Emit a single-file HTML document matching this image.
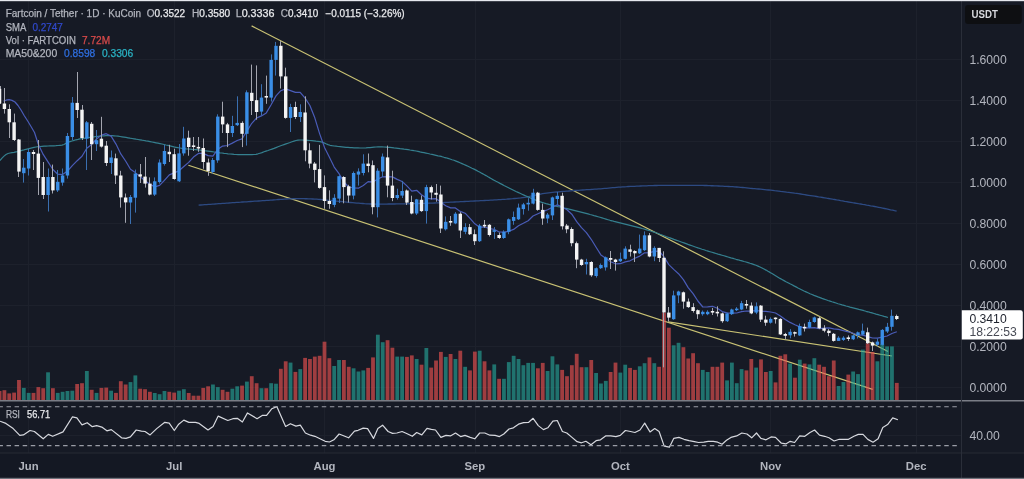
<!DOCTYPE html>
<html><head><meta charset="utf-8">
<style>
html,body{margin:0;padding:0;background:#161a25;}
body{width:1024px;height:479px;overflow:hidden;position:relative;font-family:"Liberation Sans",Arial,sans-serif;}
svg{position:absolute;left:0;top:0;}
.t{font-family:"Liberation Sans",Arial,sans-serif;}
</style></head><body>
<svg width="1024" height="479" viewBox="0 0 1024 479">
<rect x="0" y="0" width="1024" height="479" fill="#161a25"/>
<line x1="0" y1="387.5" x2="961" y2="387.5" stroke="#1d212c" stroke-width="1"/>
<line x1="0" y1="346.5" x2="961" y2="346.5" stroke="#1d212c" stroke-width="1"/>
<line x1="0" y1="305.5" x2="961" y2="305.5" stroke="#1d212c" stroke-width="1"/>
<line x1="0" y1="264.5" x2="961" y2="264.5" stroke="#1d212c" stroke-width="1"/>
<line x1="0" y1="223.5" x2="961" y2="223.5" stroke="#1d212c" stroke-width="1"/>
<line x1="0" y1="182.5" x2="961" y2="182.5" stroke="#1d212c" stroke-width="1"/>
<line x1="0" y1="141.5" x2="961" y2="141.5" stroke="#1d212c" stroke-width="1"/>
<line x1="0" y1="100.5" x2="961" y2="100.5" stroke="#1d212c" stroke-width="1"/>
<line x1="0" y1="59.5" x2="961" y2="59.5" stroke="#1d212c" stroke-width="1"/>
<line x1="28.5" y1="0" x2="28.5" y2="453" stroke="#1d212c" stroke-width="1"/>
<line x1="174.5" y1="0" x2="174.5" y2="453" stroke="#1d212c" stroke-width="1"/>
<line x1="324.5" y1="0" x2="324.5" y2="453" stroke="#1d212c" stroke-width="1"/>
<line x1="475.5" y1="0" x2="475.5" y2="453" stroke="#1d212c" stroke-width="1"/>
<line x1="620.5" y1="0" x2="620.5" y2="453" stroke="#1d212c" stroke-width="1"/>
<line x1="770.5" y1="0" x2="770.5" y2="453" stroke="#1d212c" stroke-width="1"/>
<line x1="916.5" y1="0" x2="916.5" y2="453" stroke="#1d212c" stroke-width="1"/>
<line x1="0" y1="435.5" x2="961" y2="435.5" stroke="#1d212c" stroke-width="1"/>
<line x1="251.6" y1="25.9" x2="888" y2="351.5" stroke="#c9c274" stroke-width="1.2"/>
<line x1="188.4" y1="165.2" x2="872.7" y2="389.4" stroke="#c9c274" stroke-width="1.2"/>
<line x1="668.2" y1="321.9" x2="892" y2="356" stroke="#c9c274" stroke-width="1.2"/>
<rect x="-2.35" y="391.0" width="3.8" height="9.0" fill="#ef5350" fill-opacity="0.63"/>
<rect x="2.50" y="390.2" width="3.8" height="9.8" fill="#ef5350" fill-opacity="0.63"/>
<rect x="7.35" y="393.4" width="3.8" height="6.6" fill="#ef5350" fill-opacity="0.63"/>
<rect x="12.20" y="392.6" width="3.8" height="7.4" fill="#ef5350" fill-opacity="0.63"/>
<rect x="17.05" y="380.0" width="3.8" height="20.0" fill="#ef5350" fill-opacity="0.63"/>
<rect x="21.90" y="387.9" width="3.8" height="12.1" fill="#26a69a" fill-opacity="0.63"/>
<rect x="26.75" y="392.9" width="3.8" height="7.1" fill="#26a69a" fill-opacity="0.63"/>
<rect x="31.60" y="392.9" width="3.8" height="7.1" fill="#ef5350" fill-opacity="0.63"/>
<rect x="36.45" y="387.1" width="3.8" height="12.9" fill="#ef5350" fill-opacity="0.63"/>
<rect x="41.30" y="388.2" width="3.8" height="11.8" fill="#ef5350" fill-opacity="0.63"/>
<rect x="46.15" y="372.3" width="3.8" height="27.7" fill="#26a69a" fill-opacity="0.63"/>
<rect x="51.00" y="388.2" width="3.8" height="11.8" fill="#ef5350" fill-opacity="0.63"/>
<rect x="55.85" y="392.9" width="3.8" height="7.1" fill="#26a69a" fill-opacity="0.63"/>
<rect x="60.70" y="391.8" width="3.8" height="8.2" fill="#26a69a" fill-opacity="0.63"/>
<rect x="65.55" y="391.0" width="3.8" height="9.0" fill="#26a69a" fill-opacity="0.63"/>
<rect x="70.40" y="390.7" width="3.8" height="9.3" fill="#26a69a" fill-opacity="0.63"/>
<rect x="75.25" y="384.0" width="3.8" height="16.0" fill="#ef5350" fill-opacity="0.63"/>
<rect x="80.10" y="383.2" width="3.8" height="16.8" fill="#ef5350" fill-opacity="0.63"/>
<rect x="84.95" y="371.0" width="3.8" height="29.0" fill="#26a69a" fill-opacity="0.63"/>
<rect x="89.80" y="389.8" width="3.8" height="10.2" fill="#ef5350" fill-opacity="0.63"/>
<rect x="94.65" y="392.9" width="3.8" height="7.1" fill="#26a69a" fill-opacity="0.63"/>
<rect x="99.50" y="387.9" width="3.8" height="12.1" fill="#ef5350" fill-opacity="0.63"/>
<rect x="104.35" y="387.6" width="3.8" height="12.4" fill="#ef5350" fill-opacity="0.63"/>
<rect x="109.20" y="390.7" width="3.8" height="9.3" fill="#26a69a" fill-opacity="0.63"/>
<rect x="114.05" y="392.9" width="3.8" height="7.1" fill="#ef5350" fill-opacity="0.63"/>
<rect x="118.90" y="381.2" width="3.8" height="18.8" fill="#ef5350" fill-opacity="0.63"/>
<rect x="123.75" y="384.5" width="3.8" height="15.5" fill="#ef5350" fill-opacity="0.63"/>
<rect x="128.60" y="382.1" width="3.8" height="17.9" fill="#26a69a" fill-opacity="0.63"/>
<rect x="133.45" y="375.4" width="3.8" height="24.6" fill="#26a69a" fill-opacity="0.63"/>
<rect x="138.30" y="388.7" width="3.8" height="11.3" fill="#ef5350" fill-opacity="0.63"/>
<rect x="143.15" y="389.2" width="3.8" height="10.8" fill="#ef5350" fill-opacity="0.63"/>
<rect x="148.00" y="391.8" width="3.8" height="8.2" fill="#ef5350" fill-opacity="0.63"/>
<rect x="152.85" y="393.0" width="3.8" height="7.0" fill="#26a69a" fill-opacity="0.63"/>
<rect x="157.70" y="394.2" width="3.8" height="5.8" fill="#26a69a" fill-opacity="0.63"/>
<rect x="162.55" y="391.0" width="3.8" height="9.0" fill="#26a69a" fill-opacity="0.63"/>
<rect x="167.40" y="391.8" width="3.8" height="8.2" fill="#ef5350" fill-opacity="0.63"/>
<rect x="172.25" y="392.6" width="3.8" height="7.4" fill="#ef5350" fill-opacity="0.63"/>
<rect x="177.10" y="390.7" width="3.8" height="9.3" fill="#26a69a" fill-opacity="0.63"/>
<rect x="181.95" y="389.2" width="3.8" height="10.8" fill="#26a69a" fill-opacity="0.63"/>
<rect x="186.80" y="393.0" width="3.8" height="7.0" fill="#ef5350" fill-opacity="0.63"/>
<rect x="191.65" y="395.7" width="3.8" height="4.3" fill="#ef5350" fill-opacity="0.63"/>
<rect x="196.50" y="395.7" width="3.8" height="4.3" fill="#ef5350" fill-opacity="0.63"/>
<rect x="201.35" y="387.9" width="3.8" height="12.1" fill="#ef5350" fill-opacity="0.63"/>
<rect x="206.20" y="386.3" width="3.8" height="13.7" fill="#ef5350" fill-opacity="0.63"/>
<rect x="211.05" y="384.5" width="3.8" height="15.5" fill="#26a69a" fill-opacity="0.63"/>
<rect x="215.90" y="387.1" width="3.8" height="12.9" fill="#26a69a" fill-opacity="0.63"/>
<rect x="220.75" y="389.8" width="3.8" height="10.2" fill="#ef5350" fill-opacity="0.63"/>
<rect x="225.60" y="391.8" width="3.8" height="8.2" fill="#ef5350" fill-opacity="0.63"/>
<rect x="230.45" y="388.7" width="3.8" height="11.3" fill="#26a69a" fill-opacity="0.63"/>
<rect x="235.30" y="386.3" width="3.8" height="13.7" fill="#26a69a" fill-opacity="0.63"/>
<rect x="240.15" y="385.6" width="3.8" height="14.4" fill="#ef5350" fill-opacity="0.63"/>
<rect x="245.00" y="381.6" width="3.8" height="18.4" fill="#26a69a" fill-opacity="0.63"/>
<rect x="249.85" y="376.2" width="3.8" height="23.8" fill="#ef5350" fill-opacity="0.63"/>
<rect x="254.70" y="383.2" width="3.8" height="16.8" fill="#ef5350" fill-opacity="0.63"/>
<rect x="259.55" y="388.2" width="3.8" height="11.8" fill="#26a69a" fill-opacity="0.63"/>
<rect x="264.40" y="388.2" width="3.8" height="11.8" fill="#ef5350" fill-opacity="0.63"/>
<rect x="269.25" y="383.2" width="3.8" height="16.8" fill="#26a69a" fill-opacity="0.63"/>
<rect x="274.10" y="383.7" width="3.8" height="16.3" fill="#26a69a" fill-opacity="0.63"/>
<rect x="278.95" y="368.8" width="3.8" height="31.2" fill="#ef5350" fill-opacity="0.63"/>
<rect x="283.80" y="361.3" width="3.8" height="38.7" fill="#ef5350" fill-opacity="0.63"/>
<rect x="288.65" y="362.6" width="3.8" height="37.4" fill="#26a69a" fill-opacity="0.63"/>
<rect x="293.50" y="371.9" width="3.8" height="28.1" fill="#ef5350" fill-opacity="0.63"/>
<rect x="298.35" y="369.1" width="3.8" height="30.9" fill="#26a69a" fill-opacity="0.63"/>
<rect x="303.20" y="357.9" width="3.8" height="42.1" fill="#ef5350" fill-opacity="0.63"/>
<rect x="308.05" y="359.0" width="3.8" height="41.0" fill="#ef5350" fill-opacity="0.63"/>
<rect x="312.90" y="356.6" width="3.8" height="43.4" fill="#ef5350" fill-opacity="0.63"/>
<rect x="317.75" y="355.8" width="3.8" height="44.2" fill="#ef5350" fill-opacity="0.63"/>
<rect x="322.60" y="341.7" width="3.8" height="58.3" fill="#ef5350" fill-opacity="0.63"/>
<rect x="327.45" y="358.2" width="3.8" height="41.8" fill="#ef5350" fill-opacity="0.63"/>
<rect x="332.30" y="366.0" width="3.8" height="34.0" fill="#26a69a" fill-opacity="0.63"/>
<rect x="337.15" y="360.0" width="3.8" height="40.0" fill="#26a69a" fill-opacity="0.63"/>
<rect x="342.00" y="360.0" width="3.8" height="40.0" fill="#ef5350" fill-opacity="0.63"/>
<rect x="346.85" y="366.8" width="3.8" height="33.2" fill="#ef5350" fill-opacity="0.63"/>
<rect x="351.70" y="368.3" width="3.8" height="31.7" fill="#26a69a" fill-opacity="0.63"/>
<rect x="356.55" y="371.5" width="3.8" height="28.5" fill="#26a69a" fill-opacity="0.63"/>
<rect x="361.40" y="370.4" width="3.8" height="29.6" fill="#26a69a" fill-opacity="0.63"/>
<rect x="366.25" y="367.9" width="3.8" height="32.1" fill="#ef5350" fill-opacity="0.63"/>
<rect x="371.10" y="357.4" width="3.8" height="42.6" fill="#ef5350" fill-opacity="0.63"/>
<rect x="375.95" y="334.7" width="3.8" height="65.3" fill="#26a69a" fill-opacity="0.63"/>
<rect x="380.80" y="342.2" width="3.8" height="57.8" fill="#26a69a" fill-opacity="0.63"/>
<rect x="385.65" y="340.2" width="3.8" height="59.8" fill="#ef5350" fill-opacity="0.63"/>
<rect x="390.50" y="347.7" width="3.8" height="52.3" fill="#ef5350" fill-opacity="0.63"/>
<rect x="395.35" y="356.6" width="3.8" height="43.4" fill="#26a69a" fill-opacity="0.63"/>
<rect x="400.20" y="356.6" width="3.8" height="43.4" fill="#26a69a" fill-opacity="0.63"/>
<rect x="405.05" y="356.9" width="3.8" height="43.1" fill="#ef5350" fill-opacity="0.63"/>
<rect x="409.90" y="355.4" width="3.8" height="44.6" fill="#ef5350" fill-opacity="0.63"/>
<rect x="414.75" y="359.0" width="3.8" height="41.0" fill="#26a69a" fill-opacity="0.63"/>
<rect x="419.60" y="364.7" width="3.8" height="35.3" fill="#ef5350" fill-opacity="0.63"/>
<rect x="424.45" y="348.0" width="3.8" height="52.0" fill="#26a69a" fill-opacity="0.63"/>
<rect x="429.30" y="367.6" width="3.8" height="32.4" fill="#ef5350" fill-opacity="0.63"/>
<rect x="434.15" y="360.5" width="3.8" height="39.5" fill="#ef5350" fill-opacity="0.63"/>
<rect x="439.00" y="351.9" width="3.8" height="48.1" fill="#ef5350" fill-opacity="0.63"/>
<rect x="443.85" y="356.9" width="3.8" height="43.1" fill="#26a69a" fill-opacity="0.63"/>
<rect x="448.70" y="354.0" width="3.8" height="46.0" fill="#ef5350" fill-opacity="0.63"/>
<rect x="453.55" y="359.0" width="3.8" height="41.0" fill="#26a69a" fill-opacity="0.63"/>
<rect x="458.40" y="350.7" width="3.8" height="49.3" fill="#ef5350" fill-opacity="0.63"/>
<rect x="463.25" y="366.8" width="3.8" height="33.2" fill="#26a69a" fill-opacity="0.63"/>
<rect x="468.10" y="370.4" width="3.8" height="29.6" fill="#ef5350" fill-opacity="0.63"/>
<rect x="472.95" y="351.6" width="3.8" height="48.4" fill="#ef5350" fill-opacity="0.63"/>
<rect x="477.80" y="350.7" width="3.8" height="49.3" fill="#26a69a" fill-opacity="0.63"/>
<rect x="482.65" y="361.3" width="3.8" height="38.7" fill="#ef5350" fill-opacity="0.63"/>
<rect x="487.50" y="370.4" width="3.8" height="29.6" fill="#ef5350" fill-opacity="0.63"/>
<rect x="492.35" y="364.4" width="3.8" height="35.6" fill="#26a69a" fill-opacity="0.63"/>
<rect x="497.20" y="378.8" width="3.8" height="21.2" fill="#ef5350" fill-opacity="0.63"/>
<rect x="502.05" y="378.8" width="3.8" height="21.2" fill="#26a69a" fill-opacity="0.63"/>
<rect x="506.90" y="362.1" width="3.8" height="37.9" fill="#26a69a" fill-opacity="0.63"/>
<rect x="511.75" y="355.8" width="3.8" height="44.2" fill="#26a69a" fill-opacity="0.63"/>
<rect x="516.60" y="359.0" width="3.8" height="41.0" fill="#26a69a" fill-opacity="0.63"/>
<rect x="521.45" y="365.2" width="3.8" height="34.8" fill="#26a69a" fill-opacity="0.63"/>
<rect x="526.30" y="362.9" width="3.8" height="37.1" fill="#26a69a" fill-opacity="0.63"/>
<rect x="531.15" y="362.9" width="3.8" height="37.1" fill="#26a69a" fill-opacity="0.63"/>
<rect x="536.00" y="368.3" width="3.8" height="31.7" fill="#ef5350" fill-opacity="0.63"/>
<rect x="540.85" y="362.9" width="3.8" height="37.1" fill="#ef5350" fill-opacity="0.63"/>
<rect x="545.70" y="371.0" width="3.8" height="29.0" fill="#26a69a" fill-opacity="0.63"/>
<rect x="550.55" y="356.3" width="3.8" height="43.7" fill="#26a69a" fill-opacity="0.63"/>
<rect x="555.40" y="364.4" width="3.8" height="35.6" fill="#26a69a" fill-opacity="0.63"/>
<rect x="560.25" y="369.9" width="3.8" height="30.1" fill="#ef5350" fill-opacity="0.63"/>
<rect x="565.10" y="376.2" width="3.8" height="23.8" fill="#ef5350" fill-opacity="0.63"/>
<rect x="569.95" y="365.2" width="3.8" height="34.8" fill="#ef5350" fill-opacity="0.63"/>
<rect x="574.80" y="353.8" width="3.8" height="46.2" fill="#ef5350" fill-opacity="0.63"/>
<rect x="579.65" y="367.2" width="3.8" height="32.8" fill="#ef5350" fill-opacity="0.63"/>
<rect x="584.50" y="367.2" width="3.8" height="32.8" fill="#26a69a" fill-opacity="0.63"/>
<rect x="589.35" y="360.0" width="3.8" height="40.0" fill="#ef5350" fill-opacity="0.63"/>
<rect x="594.20" y="373.0" width="3.8" height="27.0" fill="#26a69a" fill-opacity="0.63"/>
<rect x="599.05" y="383.5" width="3.8" height="16.5" fill="#26a69a" fill-opacity="0.63"/>
<rect x="603.90" y="380.9" width="3.8" height="19.1" fill="#26a69a" fill-opacity="0.63"/>
<rect x="608.75" y="372.0" width="3.8" height="28.0" fill="#ef5350" fill-opacity="0.63"/>
<rect x="613.60" y="362.6" width="3.8" height="37.4" fill="#ef5350" fill-opacity="0.63"/>
<rect x="618.45" y="372.6" width="3.8" height="27.4" fill="#26a69a" fill-opacity="0.63"/>
<rect x="623.30" y="364.7" width="3.8" height="35.3" fill="#26a69a" fill-opacity="0.63"/>
<rect x="628.15" y="367.9" width="3.8" height="32.1" fill="#ef5350" fill-opacity="0.63"/>
<rect x="633.00" y="369.9" width="3.8" height="30.1" fill="#ef5350" fill-opacity="0.63"/>
<rect x="637.85" y="366.3" width="3.8" height="33.7" fill="#26a69a" fill-opacity="0.63"/>
<rect x="642.70" y="363.2" width="3.8" height="36.8" fill="#26a69a" fill-opacity="0.63"/>
<rect x="647.55" y="357.4" width="3.8" height="42.6" fill="#ef5350" fill-opacity="0.63"/>
<rect x="652.40" y="363.2" width="3.8" height="36.8" fill="#26a69a" fill-opacity="0.63"/>
<rect x="657.25" y="366.8" width="3.8" height="33.2" fill="#ef5350" fill-opacity="0.63"/>
<rect x="662.10" y="312.5" width="3.8" height="87.5" fill="#ef5350" fill-opacity="0.63"/>
<rect x="666.95" y="327.7" width="3.8" height="72.3" fill="#ef5350" fill-opacity="0.63"/>
<rect x="671.80" y="345.3" width="3.8" height="54.7" fill="#26a69a" fill-opacity="0.63"/>
<rect x="676.65" y="342.8" width="3.8" height="57.2" fill="#26a69a" fill-opacity="0.63"/>
<rect x="681.50" y="347.2" width="3.8" height="52.8" fill="#ef5350" fill-opacity="0.63"/>
<rect x="686.35" y="358.5" width="3.8" height="41.5" fill="#ef5350" fill-opacity="0.63"/>
<rect x="691.20" y="353.2" width="3.8" height="46.8" fill="#ef5350" fill-opacity="0.63"/>
<rect x="696.05" y="363.2" width="3.8" height="36.8" fill="#ef5350" fill-opacity="0.63"/>
<rect x="700.90" y="369.9" width="3.8" height="30.1" fill="#26a69a" fill-opacity="0.63"/>
<rect x="705.75" y="372.0" width="3.8" height="28.0" fill="#26a69a" fill-opacity="0.63"/>
<rect x="710.60" y="366.8" width="3.8" height="33.2" fill="#ef5350" fill-opacity="0.63"/>
<rect x="715.45" y="366.8" width="3.8" height="33.2" fill="#ef5350" fill-opacity="0.63"/>
<rect x="720.30" y="362.6" width="3.8" height="37.4" fill="#ef5350" fill-opacity="0.63"/>
<rect x="725.15" y="380.4" width="3.8" height="19.6" fill="#26a69a" fill-opacity="0.63"/>
<rect x="730.00" y="362.6" width="3.8" height="37.4" fill="#26a69a" fill-opacity="0.63"/>
<rect x="734.85" y="383.2" width="3.8" height="16.8" fill="#26a69a" fill-opacity="0.63"/>
<rect x="739.70" y="369.1" width="3.8" height="30.9" fill="#26a69a" fill-opacity="0.63"/>
<rect x="744.55" y="370.4" width="3.8" height="29.6" fill="#ef5350" fill-opacity="0.63"/>
<rect x="749.40" y="359.0" width="3.8" height="41.0" fill="#ef5350" fill-opacity="0.63"/>
<rect x="754.25" y="367.6" width="3.8" height="32.4" fill="#26a69a" fill-opacity="0.63"/>
<rect x="759.10" y="359.4" width="3.8" height="40.6" fill="#ef5350" fill-opacity="0.63"/>
<rect x="763.95" y="372.0" width="3.8" height="28.0" fill="#ef5350" fill-opacity="0.63"/>
<rect x="768.80" y="371.0" width="3.8" height="29.0" fill="#26a69a" fill-opacity="0.63"/>
<rect x="773.65" y="382.4" width="3.8" height="17.6" fill="#ef5350" fill-opacity="0.63"/>
<rect x="778.50" y="355.8" width="3.8" height="44.2" fill="#ef5350" fill-opacity="0.63"/>
<rect x="783.35" y="354.3" width="3.8" height="45.7" fill="#ef5350" fill-opacity="0.63"/>
<rect x="788.20" y="363.6" width="3.8" height="36.4" fill="#26a69a" fill-opacity="0.63"/>
<rect x="793.05" y="377.7" width="3.8" height="22.3" fill="#ef5350" fill-opacity="0.63"/>
<rect x="797.90" y="359.7" width="3.8" height="40.3" fill="#26a69a" fill-opacity="0.63"/>
<rect x="802.75" y="363.6" width="3.8" height="36.4" fill="#ef5350" fill-opacity="0.63"/>
<rect x="807.60" y="364.4" width="3.8" height="35.6" fill="#26a69a" fill-opacity="0.63"/>
<rect x="812.45" y="358.2" width="3.8" height="41.8" fill="#26a69a" fill-opacity="0.63"/>
<rect x="817.30" y="364.7" width="3.8" height="35.3" fill="#ef5350" fill-opacity="0.63"/>
<rect x="822.15" y="366.8" width="3.8" height="33.2" fill="#ef5350" fill-opacity="0.63"/>
<rect x="827.00" y="376.2" width="3.8" height="23.8" fill="#ef5350" fill-opacity="0.63"/>
<rect x="831.85" y="360.5" width="3.8" height="39.5" fill="#ef5350" fill-opacity="0.63"/>
<rect x="836.70" y="386.0" width="3.8" height="14.0" fill="#26a69a" fill-opacity="0.63"/>
<rect x="841.55" y="382.0" width="3.8" height="18.0" fill="#26a69a" fill-opacity="0.63"/>
<rect x="846.40" y="374.6" width="3.8" height="25.4" fill="#ef5350" fill-opacity="0.63"/>
<rect x="851.25" y="371.5" width="3.8" height="28.5" fill="#26a69a" fill-opacity="0.63"/>
<rect x="856.10" y="374.1" width="3.8" height="25.9" fill="#26a69a" fill-opacity="0.63"/>
<rect x="860.95" y="349.6" width="3.8" height="50.4" fill="#26a69a" fill-opacity="0.63"/>
<rect x="865.80" y="343.3" width="3.8" height="56.7" fill="#ef5350" fill-opacity="0.63"/>
<rect x="870.65" y="351.9" width="3.8" height="48.1" fill="#ef5350" fill-opacity="0.63"/>
<rect x="875.50" y="361.3" width="3.8" height="38.7" fill="#26a69a" fill-opacity="0.63"/>
<rect x="880.35" y="344.1" width="3.8" height="55.9" fill="#26a69a" fill-opacity="0.63"/>
<rect x="885.20" y="346.4" width="3.8" height="53.6" fill="#26a69a" fill-opacity="0.63"/>
<rect x="890.05" y="346.4" width="3.8" height="53.6" fill="#26a69a" fill-opacity="0.63"/>
<rect x="894.90" y="382.9" width="3.8" height="17.1" fill="#ef5350" fill-opacity="0.63"/>
<polyline points="198.6,205.2 200.6,205.0 202.6,204.9 204.6,204.7 206.6,204.6 208.6,204.4 210.6,204.3 212.6,204.1 214.6,204.0 216.6,203.8 218.6,203.7 220.6,203.6 222.6,203.4 224.6,203.3 226.6,203.1 228.6,203.0 230.6,202.8 232.6,202.7 234.6,202.6 236.6,202.4 238.6,202.3 240.6,202.2 242.6,202.0 244.6,201.9 246.6,201.8 248.6,201.6 250.6,201.5 252.6,201.4 254.6,201.2 256.6,201.1 258.6,201.0 260.6,200.9 262.6,200.7 264.6,200.6 266.6,200.4 268.6,200.3 270.6,200.1 272.6,200.0 274.6,199.8 276.6,199.7 278.6,199.5 280.6,199.4 282.6,199.3 284.6,199.1 286.6,199.0 288.6,198.9 290.6,198.8 292.6,198.7 294.6,198.7 296.6,198.6 298.6,198.6 300.6,198.6 302.6,198.6 304.6,198.7 306.6,198.7 308.6,198.8 310.6,198.9 312.6,199.0 314.6,199.1 316.6,199.2 318.6,199.4 320.6,199.5 322.6,199.7 324.6,199.9 326.6,200.1 328.6,200.3 330.6,200.5 332.6,200.7 334.6,200.9 336.6,201.1 338.6,201.3 340.6,201.5 342.6,201.7 344.6,201.9 346.6,202.1 348.6,202.3 350.6,202.5 352.6,202.7 354.6,202.9 356.6,203.1 358.6,203.2 360.6,203.4 362.6,203.5 364.6,203.7 366.6,203.8 368.6,203.9 370.6,204.0 372.6,204.0 374.6,204.1 376.6,204.1 378.6,204.1 380.6,204.1 382.6,204.1 384.6,204.1 386.6,204.1 388.6,204.0 390.6,204.0 392.6,204.0 394.6,204.0 396.6,203.9 398.6,203.9 400.6,203.9 402.6,203.8 404.6,203.8 406.6,203.7 408.6,203.7 410.6,203.7 412.6,203.6 414.6,203.6 416.6,203.5 418.6,203.5 420.6,203.4 422.6,203.4 424.6,203.3 426.6,203.3 428.6,203.2 430.6,203.1 432.6,203.1 434.6,203.0 436.6,202.9 438.6,202.8 440.6,202.7 442.6,202.6 444.6,202.5 446.6,202.4 448.6,202.3 450.6,202.2 452.6,202.1 454.6,202.0 456.6,201.9 458.6,201.8 460.6,201.7 462.6,201.6 464.6,201.5 466.6,201.4 468.6,201.3 470.6,201.2 472.6,201.1 474.6,201.0 476.6,200.9 478.6,200.8 480.6,200.7 482.6,200.6 484.6,200.5 486.6,200.4 488.6,200.3 490.6,200.2 492.6,200.1 494.6,199.9 496.6,199.8 498.6,199.7 500.6,199.6 502.6,199.4 504.6,199.3 506.6,199.2 508.6,199.0 510.6,198.8 512.6,198.7 514.6,198.5 516.6,198.3 518.6,198.1 520.6,197.9 522.6,197.6 524.6,197.3 526.6,197.0 528.6,196.6 530.6,196.2 532.6,195.8 534.6,195.3 536.6,194.9 538.6,194.5 540.6,194.1 542.6,193.7 544.6,193.4 546.6,193.1 548.6,192.8 550.6,192.6 552.6,192.4 554.6,192.2 556.6,192.0 558.6,191.8 560.6,191.6 562.6,191.4 564.6,191.3 566.6,191.1 568.6,191.0 570.6,190.8 572.6,190.7 574.6,190.5 576.6,190.4 578.6,190.3 580.6,190.1 582.6,190.0 584.6,189.9 586.6,189.7 588.6,189.6 590.6,189.5 592.6,189.3 594.6,189.2 596.6,189.1 598.6,188.9 600.6,188.8 602.6,188.6 604.6,188.4 606.6,188.3 608.6,188.1 610.6,187.9 612.6,187.7 614.6,187.6 616.6,187.4 618.6,187.2 620.6,187.1 622.6,186.9 624.6,186.8 626.6,186.7 628.6,186.5 630.6,186.4 632.6,186.3 634.6,186.3 636.6,186.2 638.6,186.1 640.6,186.0 642.6,185.9 644.6,185.8 646.6,185.8 648.6,185.7 650.6,185.6 652.6,185.6 654.6,185.5 656.6,185.5 658.6,185.4 660.6,185.4 662.6,185.4 664.6,185.4 666.6,185.4 668.6,185.4 670.6,185.4 672.6,185.3 674.6,185.3 676.6,185.3 678.6,185.3 680.6,185.3 682.6,185.3 684.6,185.3 686.6,185.3 688.6,185.3 690.6,185.3 692.6,185.3 694.6,185.3 696.6,185.3 698.6,185.3 700.6,185.4 702.6,185.4 704.6,185.5 706.6,185.5 708.6,185.6 710.6,185.7 712.6,185.7 714.6,185.8 716.6,185.9 718.6,186.0 720.6,186.1 722.6,186.2 724.6,186.3 726.6,186.4 728.6,186.5 730.6,186.6 732.6,186.7 734.6,186.9 736.6,187.0 738.6,187.2 740.6,187.4 742.6,187.5 744.6,187.7 746.6,187.9 748.6,188.1 750.6,188.3 752.6,188.5 754.6,188.6 756.6,188.8 758.6,189.0 760.6,189.2 762.6,189.4 764.6,189.6 766.6,189.8 768.6,190.0 770.6,190.2 772.6,190.4 774.6,190.7 776.6,190.9 778.6,191.1 780.6,191.4 782.6,191.6 784.6,191.8 786.6,192.1 788.6,192.3 790.6,192.6 792.6,192.9 794.6,193.2 796.6,193.4 798.6,193.7 800.6,194.0 802.6,194.3 804.6,194.6 806.6,195.0 808.6,195.3 810.6,195.6 812.6,195.9 814.6,196.2 816.6,196.5 818.6,196.9 820.6,197.2 822.6,197.5 824.6,197.8 826.6,198.2 828.6,198.5 830.6,198.8 832.6,199.2 834.6,199.5 836.6,199.9 838.6,200.2 840.6,200.6 842.6,200.9 844.6,201.3 846.6,201.6 848.6,202.0 850.6,202.3 852.6,202.7 854.6,203.0 856.6,203.3 858.6,203.7 860.6,204.0 862.6,204.4 864.6,204.7 866.6,205.1 868.6,205.4 870.6,205.8 872.6,206.1 874.6,206.5 876.6,206.9 878.6,207.3 880.6,207.7 882.6,208.1 884.6,208.5 886.6,208.9 888.6,209.3 890.6,209.8 892.6,210.2 894.6,210.7 896.6,211.1" fill="none" stroke="#2d4a82" stroke-width="1.35" stroke-linejoin="round" />
<polyline points="0.0,160.5 2.0,158.2 4.0,156.1 6.0,154.5 8.0,153.5 10.0,153.0 12.0,152.6 14.0,152.3 16.0,151.9 18.0,151.5 20.0,151.0 22.0,150.4 24.0,149.9 26.0,149.3 28.0,148.8 30.0,148.3 32.0,147.8 34.0,147.4 36.0,147.0 38.0,146.7 40.0,146.5 42.0,146.3 44.0,146.2 46.0,146.1 48.0,146.0 50.0,145.9 52.0,145.9 54.0,145.8 56.0,145.7 58.0,145.5 60.0,145.3 62.0,145.1 64.0,144.5 66.0,143.3 68.0,142.3 70.0,141.6 72.0,141.0 74.0,140.4 76.0,139.8 78.0,139.4 80.0,138.9 82.0,138.6 84.0,138.3 86.0,137.9 88.0,137.6 90.0,137.3 92.0,137.0 94.0,136.8 96.0,136.5 98.0,136.3 100.0,136.1 102.0,135.9 104.0,135.8 106.0,135.7 108.0,135.6 110.0,135.6 112.0,135.7 114.0,135.8 116.0,136.0 118.0,136.2 120.0,136.5 122.0,136.8 124.0,137.1 126.0,137.4 128.0,137.8 130.0,138.2 132.0,138.5 134.0,138.8 136.0,139.2 138.0,139.5 140.0,139.8 142.0,140.2 144.0,140.5 146.0,140.9 148.0,141.2 150.0,141.6 152.0,142.0 154.0,142.4 156.0,142.8 158.0,143.2 160.0,143.6 162.0,144.0 164.0,144.5 166.0,145.0 168.0,145.4 170.0,145.9 172.0,146.4 174.0,146.9 176.0,147.3 178.0,147.7 180.0,148.0 182.0,148.3 184.0,148.5 186.0,148.8 188.0,149.0 190.0,149.2 192.0,149.4 194.0,149.5 196.0,149.7 198.0,149.9 200.0,150.1 202.0,150.3 204.0,150.6 206.0,150.8 208.0,151.1 210.0,151.4 212.0,151.7 214.0,152.0 216.0,152.3 218.0,152.5 220.0,152.8 222.0,153.0 224.0,153.3 226.0,153.5 228.0,153.8 230.0,154.0 232.0,154.2 234.0,154.4 236.0,154.5 238.0,154.6 240.0,154.6 242.0,154.6 244.0,154.6 246.0,154.6 248.0,154.6 250.0,154.6 252.0,154.6 254.0,154.5 256.0,154.3 258.0,153.8 260.0,153.2 262.0,152.6 264.0,151.8 266.0,151.1 268.0,150.5 270.0,149.8 272.0,149.1 274.0,148.4 276.0,147.6 278.0,146.8 280.0,146.0 282.0,145.3 284.0,144.6 286.0,143.9 288.0,143.2 290.0,142.5 292.0,141.7 294.0,141.1 296.0,140.5 298.0,140.1 300.0,140.0 302.0,140.0 304.0,140.1 306.0,140.2 308.0,140.3 310.0,140.5 312.0,140.6 314.0,140.8 316.0,141.1 318.0,141.3 320.0,141.6 322.0,142.1 324.0,142.9 326.0,143.8 328.0,144.6 330.0,145.3 332.0,145.7 334.0,146.0 336.0,146.2 338.0,146.5 340.0,146.7 342.0,146.9 344.0,147.1 346.0,147.3 348.0,147.4 350.0,147.6 352.0,147.7 354.0,147.8 356.0,147.9 358.0,147.9 360.0,148.0 362.0,148.0 364.0,148.0 366.0,147.9 368.0,147.7 370.0,147.6 372.0,147.4 374.0,147.2 376.0,147.0 378.0,146.9 380.0,146.9 382.0,146.9 384.0,147.0 386.0,147.1 388.0,147.3 390.0,147.4 392.0,147.6 394.0,147.9 396.0,148.1 398.0,148.3 400.0,148.6 402.0,148.8 404.0,149.1 406.0,149.3 408.0,149.6 410.0,150.0 412.0,150.3 414.0,150.7 416.0,151.0 418.0,151.4 420.0,151.9 422.0,152.3 424.0,152.7 426.0,153.1 428.0,153.5 430.0,154.0 432.0,154.4 434.0,154.8 436.0,155.3 438.0,155.8 440.0,156.2 442.0,156.7 444.0,157.3 446.0,157.8 448.0,158.4 450.0,159.0 452.0,159.7 454.0,160.3 456.0,161.1 458.0,161.9 460.0,162.7 462.0,163.6 464.0,164.5 466.0,165.4 468.0,166.3 470.0,167.2 472.0,168.2 474.0,169.1 476.0,170.1 478.0,171.2 480.0,172.2 482.0,173.4 484.0,174.5 486.0,175.6 488.0,176.8 490.0,177.9 492.0,179.1 494.0,180.2 496.0,181.3 498.0,182.3 500.0,183.4 502.0,184.4 504.0,185.5 506.0,186.5 508.0,187.5 510.0,188.5 512.0,189.5 514.0,190.5 516.0,191.5 518.0,192.4 520.0,193.3 522.0,194.2 524.0,195.1 526.0,196.0 528.0,196.9 530.0,197.7 532.0,198.6 534.0,199.4 536.0,200.2 538.0,201.0 540.0,201.7 542.0,202.4 544.0,203.0 546.0,203.6 548.0,204.1 550.0,204.7 552.0,205.2 554.0,205.7 556.0,206.1 558.0,206.6 560.0,207.0 562.0,207.5 564.0,208.0 566.0,208.4 568.0,208.9 570.0,209.4 572.0,209.9 574.0,210.4 576.0,210.9 578.0,211.4 580.0,211.9 582.0,212.4 584.0,212.9 586.0,213.4 588.0,213.9 590.0,214.5 592.0,215.0 594.0,215.6 596.0,216.1 598.0,216.7 600.0,217.3 602.0,217.9 604.0,218.5 606.0,219.1 608.0,219.7 610.0,220.3 612.0,220.8 614.0,221.4 616.0,221.9 618.0,222.4 620.0,222.9 622.0,223.4 624.0,223.9 626.0,224.4 628.0,224.9 630.0,225.4 632.0,225.9 634.0,226.4 636.0,226.9 638.0,227.4 640.0,227.9 642.0,228.5 644.0,229.0 646.0,229.6 648.0,230.2 650.0,230.8 652.0,231.5 654.0,232.1 656.0,232.8 658.0,233.5 660.0,234.3 662.0,235.0 664.0,235.7 666.0,236.5 668.0,237.2 670.0,237.9 672.0,238.6 674.0,239.4 676.0,240.1 678.0,240.8 680.0,241.5 682.0,242.2 684.0,242.9 686.0,243.6 688.0,244.4 690.0,245.1 692.0,245.8 694.0,246.5 696.0,247.2 698.0,247.9 700.0,248.5 702.0,249.2 704.0,249.8 706.0,250.5 708.0,251.1 710.0,251.7 712.0,252.3 714.0,252.9 716.0,253.5 718.0,254.1 720.0,254.6 722.0,255.2 724.0,255.8 726.0,256.4 728.0,257.0 730.0,257.6 732.0,258.2 734.0,258.7 736.0,259.3 738.0,259.8 740.0,260.4 742.0,260.9 744.0,261.5 746.0,262.0 748.0,262.6 750.0,263.3 752.0,263.9 754.0,264.6 756.0,265.3 758.0,266.1 760.0,267.0 762.0,268.0 764.0,269.0 766.0,270.1 768.0,271.3 770.0,272.4 772.0,273.6 774.0,274.8 776.0,276.0 778.0,277.2 780.0,278.4 782.0,279.5 784.0,280.6 786.0,281.7 788.0,282.7 790.0,283.8 792.0,284.8 794.0,285.9 796.0,286.9 798.0,288.0 800.0,289.0 802.0,290.0 804.0,291.0 806.0,291.9 808.0,292.8 810.0,293.7 812.0,294.5 814.0,295.4 816.0,296.1 818.0,296.9 820.0,297.6 822.0,298.4 824.0,299.1 826.0,299.8 828.0,300.5 830.0,301.1 832.0,301.8 834.0,302.4 836.0,303.0 838.0,303.7 840.0,304.3 842.0,304.9 844.0,305.4 846.0,306.0 848.0,306.5 850.0,307.1 852.0,307.6 854.0,308.1 856.0,308.6 858.0,309.1 860.0,309.7 862.0,310.2 864.0,310.7 866.0,311.3 868.0,311.8 870.0,312.4 872.0,312.9 874.0,313.5 876.0,314.1 878.0,314.6 880.0,315.2 882.0,315.8 884.0,316.4 886.0,316.9 888.0,317.5" fill="none" stroke="#35808f" stroke-width="1.2" stroke-linejoin="round" />
<polyline points="3.5,101.2 6.0,100.2 9.0,99.7 12.0,100.4 15.0,102.0 18.0,105.5 21.0,110.0 24.0,115.2 28.0,121.5 31.3,127.0 34.5,132.5 38.3,144.2 43.2,154.4 48.0,161.9 52.9,169.5 57.7,174.2 62.6,174.6 67.5,171.1 72.3,165.6 77.2,160.7 82.0,156.3 86.8,148.2 91.7,144.5 96.5,139.0 101.4,135.1 106.2,133.7 111.1,136.1 116.0,144.1 120.8,153.9 125.6,161.0 130.5,169.3 135.3,172.6 140.2,176.6 145.0,180.7 149.9,184.2 154.8,186.9 159.6,185.4 164.4,180.3 169.3,174.9 174.2,172.9 179.0,170.7 183.8,166.5 188.7,162.4 193.5,157.1 198.4,153.4 203.2,153.4 208.1,155.6 212.9,156.2 217.8,149.3 222.6,146.1 227.5,145.5 232.3,143.1 237.2,140.5 242.0,138.9 246.9,131.1 251.8,123.3 256.6,118.0 261.4,115.9 266.3,112.9 271.1,104.8 276.0,95.9 280.8,90.7 285.7,88.9 290.5,90.6 295.4,92.4 300.2,92.4 305.1,98.2 309.9,105.5 314.8,117.8 319.6,133.6 324.5,147.4 329.3,157.0 334.2,167.1 339.0,173.6 343.9,182.0 348.7,187.0 353.6,188.0 358.4,188.2 363.3,185.5 368.1,181.6 373.0,182.0 377.8,179.0 382.7,176.8 387.5,176.6 392.4,176.9 397.2,179.4 402.1,181.5 406.9,185.9 411.8,191.1 416.6,190.3 421.5,194.8 426.3,198.1 431.2,198.9 436.0,198.6 440.9,202.3 445.7,205.7 450.6,207.9 455.4,207.9 460.3,211.4 465.1,213.2 470.0,218.4 474.8,223.8 479.7,227.2 484.5,227.0 489.4,228.5 494.2,229.3 499.1,232.0 503.9,232.2 508.8,231.3 513.6,229.4 518.5,225.7 523.3,223.3 528.2,220.7 533.0,216.0 537.9,213.7 542.7,211.6 547.6,209.7 552.4,207.2 557.3,204.9 562.1,206.9 567.0,209.7 571.8,214.2 576.7,221.6 581.5,227.7 586.4,232.6 591.2,239.3 596.1,247.2 600.9,254.9 605.8,258.3 610.6,261.7 615.5,263.8 620.3,263.7 625.2,261.9 630.0,260.8 634.9,258.3 639.7,256.1 644.6,252.8 649.4,252.7 654.3,251.4 659.1,251.0 664.0,256.9 668.8,264.6 673.7,269.4 678.5,273.7 683.4,279.6 688.2,287.6 693.1,293.6 697.9,301.0 702.8,307.0 707.6,306.9 712.5,306.3 717.3,308.3 722.2,311.6 727.0,312.9 731.9,313.2 736.7,313.0 741.6,311.7 746.4,311.0 751.3,311.2 756.1,310.5 761.0,311.2 765.8,311.4 770.7,312.0 775.5,313.0 780.4,315.9 785.2,319.5 790.1,322.4 794.9,324.7 799.8,326.9 804.6,327.8 809.5,327.8 814.3,327.6 819.2,328.6 824.0,328.2 828.9,327.9 833.7,328.9 838.6,329.4 843.4,330.7 848.3,331.8 853.1,333.3 858.0,335.0 862.8,335.2 867.7,336.6 872.5,338.0 877.4,338.1 882.2,337.2 887.1,336.0 891.9,333.5 896.8,331.7" fill="none" stroke="#4a5cb8" stroke-width="1.2" stroke-linejoin="round" />
<line x1="0.50" y1="86.0" x2="0.50" y2="104.0" stroke="#a4a6b0" stroke-width="1"/>
<rect x="-2.15" y="88.8" width="3.4" height="14.6" fill="#f4f4f4"/>
<line x1="4.50" y1="88.0" x2="4.50" y2="113.6" stroke="#a4a6b0" stroke-width="1"/>
<rect x="2.70" y="103.5" width="3.4" height="5.5" fill="#f4f4f4"/>
<line x1="9.50" y1="104.3" x2="9.50" y2="138.0" stroke="#a4a6b0" stroke-width="1"/>
<rect x="7.55" y="109.0" width="3.4" height="13.3" fill="#f4f4f4"/>
<line x1="14.50" y1="113.6" x2="14.50" y2="141.0" stroke="#a4a6b0" stroke-width="1"/>
<rect x="12.40" y="122.3" width="3.4" height="17.7" fill="#f4f4f4"/>
<line x1="18.50" y1="139.0" x2="18.50" y2="177.0" stroke="#a4a6b0" stroke-width="1"/>
<rect x="17.25" y="139.5" width="3.4" height="32.1" fill="#f4f4f4"/>
<line x1="23.50" y1="159.0" x2="23.50" y2="182.6" stroke="#3a6fb0" stroke-width="1"/>
<rect x="22.10" y="167.7" width="3.4" height="5.5" fill="#3a8ee6"/>
<line x1="28.50" y1="149.0" x2="28.50" y2="175.5" stroke="#3a6fb0" stroke-width="1"/>
<rect x="26.95" y="152.0" width="3.4" height="16.5" fill="#3a8ee6"/>
<line x1="33.50" y1="150.0" x2="33.50" y2="170.0" stroke="#a4a6b0" stroke-width="1"/>
<rect x="31.80" y="152.0" width="3.4" height="2.0" fill="#f4f4f4"/>
<line x1="38.50" y1="140.0" x2="38.50" y2="195.0" stroke="#a4a6b0" stroke-width="1"/>
<rect x="36.65" y="153.6" width="3.4" height="24.3" fill="#f4f4f4"/>
<line x1="43.50" y1="162.0" x2="43.50" y2="199.0" stroke="#a4a6b0" stroke-width="1"/>
<rect x="41.50" y="177.0" width="3.4" height="18.0" fill="#f4f4f4"/>
<line x1="48.50" y1="168.5" x2="48.50" y2="211.5" stroke="#3a6fb0" stroke-width="1"/>
<rect x="46.35" y="177.0" width="3.4" height="18.0" fill="#3a8ee6"/>
<line x1="52.50" y1="164.6" x2="52.50" y2="193.5" stroke="#a4a6b0" stroke-width="1"/>
<rect x="51.20" y="177.0" width="3.4" height="13.4" fill="#f4f4f4"/>
<line x1="57.50" y1="170.0" x2="57.50" y2="192.0" stroke="#3a6fb0" stroke-width="1"/>
<rect x="56.05" y="181.8" width="3.4" height="8.6" fill="#3a8ee6"/>
<line x1="62.50" y1="168.5" x2="62.50" y2="185.7" stroke="#3a6fb0" stroke-width="1"/>
<rect x="60.90" y="175.5" width="3.4" height="7.1" fill="#3a8ee6"/>
<line x1="67.50" y1="133.0" x2="67.50" y2="178.6" stroke="#3a6fb0" stroke-width="1"/>
<rect x="65.75" y="136.0" width="3.4" height="39.5" fill="#3a8ee6"/>
<line x1="72.50" y1="97.0" x2="72.50" y2="140.0" stroke="#3a6fb0" stroke-width="1"/>
<rect x="70.60" y="102.7" width="3.4" height="34.3" fill="#3a8ee6"/>
<line x1="77.50" y1="72.0" x2="77.50" y2="118.0" stroke="#a4a6b0" stroke-width="1"/>
<rect x="75.45" y="102.9" width="3.4" height="7.1" fill="#f4f4f4"/>
<line x1="82.50" y1="105.0" x2="82.50" y2="140.0" stroke="#a4a6b0" stroke-width="1"/>
<rect x="80.30" y="109.7" width="3.4" height="28.3" fill="#f4f4f4"/>
<line x1="86.50" y1="121.0" x2="86.50" y2="170.0" stroke="#3a6fb0" stroke-width="1"/>
<rect x="85.15" y="122.3" width="3.4" height="16.4" fill="#3a8ee6"/>
<line x1="91.50" y1="122.0" x2="91.50" y2="160.0" stroke="#a4a6b0" stroke-width="1"/>
<rect x="90.00" y="123.8" width="3.4" height="20.4" fill="#f4f4f4"/>
<line x1="96.50" y1="130.0" x2="96.50" y2="151.0" stroke="#3a6fb0" stroke-width="1"/>
<rect x="94.85" y="140.2" width="3.4" height="4.0" fill="#3a8ee6"/>
<line x1="101.50" y1="116.8" x2="101.50" y2="147.5" stroke="#a4a6b0" stroke-width="1"/>
<rect x="99.70" y="138.7" width="3.4" height="7.9" fill="#f4f4f4"/>
<line x1="106.50" y1="141.0" x2="106.50" y2="166.0" stroke="#a4a6b0" stroke-width="1"/>
<rect x="104.55" y="145.7" width="3.4" height="17.3" fill="#f4f4f4"/>
<line x1="111.50" y1="150.5" x2="111.50" y2="174.0" stroke="#3a6fb0" stroke-width="1"/>
<rect x="109.40" y="157.5" width="3.4" height="5.5" fill="#3a8ee6"/>
<line x1="115.50" y1="153.6" x2="115.50" y2="184.0" stroke="#a4a6b0" stroke-width="1"/>
<rect x="114.25" y="158.3" width="3.4" height="17.2" fill="#f4f4f4"/>
<line x1="120.50" y1="170.8" x2="120.50" y2="207.6" stroke="#a4a6b0" stroke-width="1"/>
<rect x="119.10" y="175.5" width="3.4" height="21.9" fill="#f4f4f4"/>
<line x1="125.50" y1="193.5" x2="125.50" y2="222.8" stroke="#a4a6b0" stroke-width="1"/>
<rect x="123.95" y="197.5" width="3.4" height="4.9" fill="#f4f4f4"/>
<line x1="130.50" y1="195.0" x2="130.50" y2="224.0" stroke="#3a6fb0" stroke-width="1"/>
<rect x="128.80" y="197.0" width="3.4" height="5.5" fill="#3a8ee6"/>
<line x1="135.50" y1="169.6" x2="135.50" y2="212.6" stroke="#3a6fb0" stroke-width="1"/>
<rect x="133.65" y="173.5" width="3.4" height="24.2" fill="#3a8ee6"/>
<line x1="140.50" y1="164.0" x2="140.50" y2="183.0" stroke="#a4a6b0" stroke-width="1"/>
<rect x="138.50" y="174.3" width="3.4" height="2.3" fill="#f4f4f4"/>
<line x1="145.50" y1="157.0" x2="145.50" y2="187.6" stroke="#a4a6b0" stroke-width="1"/>
<rect x="143.35" y="176.6" width="3.4" height="7.0" fill="#f4f4f4"/>
<line x1="149.50" y1="177.4" x2="149.50" y2="195.4" stroke="#a4a6b0" stroke-width="1"/>
<rect x="148.20" y="183.6" width="3.4" height="11.0" fill="#f4f4f4"/>
<line x1="154.50" y1="177.4" x2="154.50" y2="196.0" stroke="#3a6fb0" stroke-width="1"/>
<rect x="153.05" y="181.3" width="3.4" height="13.3" fill="#3a8ee6"/>
<line x1="159.50" y1="159.4" x2="159.50" y2="183.6" stroke="#3a6fb0" stroke-width="1"/>
<rect x="157.90" y="162.5" width="3.4" height="19.5" fill="#3a8ee6"/>
<line x1="164.50" y1="144.8" x2="164.50" y2="165.6" stroke="#3a6fb0" stroke-width="1"/>
<rect x="162.75" y="151.0" width="3.4" height="13.0" fill="#3a8ee6"/>
<line x1="169.50" y1="144.8" x2="169.50" y2="162.0" stroke="#a4a6b0" stroke-width="1"/>
<rect x="167.60" y="151.8" width="3.4" height="2.4" fill="#f4f4f4"/>
<line x1="174.50" y1="148.7" x2="174.50" y2="179.7" stroke="#a4a6b0" stroke-width="1"/>
<rect x="172.45" y="154.2" width="3.4" height="24.8" fill="#f4f4f4"/>
<line x1="179.50" y1="144.0" x2="179.50" y2="182.0" stroke="#3a6fb0" stroke-width="1"/>
<rect x="177.30" y="153.4" width="3.4" height="27.9" fill="#3a8ee6"/>
<line x1="183.50" y1="126.8" x2="183.50" y2="155.7" stroke="#3a6fb0" stroke-width="1"/>
<rect x="182.15" y="138.5" width="3.4" height="14.9" fill="#3a8ee6"/>
<line x1="188.50" y1="130.7" x2="188.50" y2="155.7" stroke="#a4a6b0" stroke-width="1"/>
<rect x="187.00" y="137.7" width="3.4" height="9.3" fill="#f4f4f4"/>
<line x1="193.50" y1="137.0" x2="193.50" y2="151.0" stroke="#a4a6b0" stroke-width="1"/>
<rect x="191.85" y="145.4" width="3.4" height="1.6" fill="#f4f4f4"/>
<line x1="198.50" y1="137.0" x2="198.50" y2="151.8" stroke="#a4a6b0" stroke-width="1"/>
<rect x="196.70" y="146.9" width="3.4" height="1.6" fill="#f4f4f4"/>
<line x1="203.50" y1="138.5" x2="203.50" y2="168.8" stroke="#a4a6b0" stroke-width="1"/>
<rect x="201.55" y="148.0" width="3.4" height="14.0" fill="#f4f4f4"/>
<line x1="208.50" y1="158.6" x2="208.50" y2="175.8" stroke="#a4a6b0" stroke-width="1"/>
<rect x="206.40" y="162.5" width="3.4" height="8.5" fill="#f4f4f4"/>
<line x1="212.50" y1="158.0" x2="212.50" y2="173.5" stroke="#3a6fb0" stroke-width="1"/>
<rect x="211.25" y="160.0" width="3.4" height="12.0" fill="#3a8ee6"/>
<line x1="217.50" y1="114.3" x2="217.50" y2="162.8" stroke="#3a6fb0" stroke-width="1"/>
<rect x="216.10" y="116.6" width="3.4" height="43.8" fill="#3a8ee6"/>
<line x1="222.50" y1="101.7" x2="222.50" y2="133.0" stroke="#a4a6b0" stroke-width="1"/>
<rect x="220.95" y="116.6" width="3.4" height="7.8" fill="#f4f4f4"/>
<line x1="227.50" y1="122.9" x2="227.50" y2="147.1" stroke="#a4a6b0" stroke-width="1"/>
<rect x="225.80" y="124.4" width="3.4" height="8.6" fill="#f4f4f4"/>
<line x1="232.50" y1="115.8" x2="232.50" y2="137.0" stroke="#3a6fb0" stroke-width="1"/>
<rect x="230.65" y="126.0" width="3.4" height="7.0" fill="#3a8ee6"/>
<line x1="237.50" y1="96.3" x2="237.50" y2="126.0" stroke="#3a6fb0" stroke-width="1"/>
<rect x="235.50" y="122.9" width="3.4" height="2.3" fill="#3a8ee6"/>
<line x1="242.50" y1="121.3" x2="242.50" y2="147.1" stroke="#a4a6b0" stroke-width="1"/>
<rect x="240.35" y="122.9" width="3.4" height="10.9" fill="#f4f4f4"/>
<line x1="246.50" y1="90.4" x2="246.50" y2="145.6" stroke="#3a6fb0" stroke-width="1"/>
<rect x="245.20" y="92.3" width="3.4" height="41.5" fill="#3a8ee6"/>
<line x1="251.50" y1="64.6" x2="251.50" y2="115.0" stroke="#a4a6b0" stroke-width="1"/>
<rect x="250.05" y="92.8" width="3.4" height="8.2" fill="#f4f4f4"/>
<line x1="256.50" y1="65.4" x2="256.50" y2="119.7" stroke="#a4a6b0" stroke-width="1"/>
<rect x="254.90" y="100.2" width="3.4" height="11.8" fill="#f4f4f4"/>
<line x1="261.50" y1="84.2" x2="261.50" y2="115.6" stroke="#3a6fb0" stroke-width="1"/>
<rect x="259.75" y="97.6" width="3.4" height="14.0" fill="#3a8ee6"/>
<line x1="266.50" y1="75.6" x2="266.50" y2="103.8" stroke="#a4a6b0" stroke-width="1"/>
<rect x="264.60" y="96.0" width="3.4" height="1.6" fill="#f4f4f4"/>
<line x1="271.50" y1="54.4" x2="271.50" y2="101.5" stroke="#3a6fb0" stroke-width="1"/>
<rect x="269.45" y="59.9" width="3.4" height="37.7" fill="#3a8ee6"/>
<line x1="275.50" y1="41.9" x2="275.50" y2="75.6" stroke="#3a6fb0" stroke-width="1"/>
<rect x="274.30" y="45.8" width="3.4" height="14.1" fill="#3a8ee6"/>
<line x1="280.50" y1="41.1" x2="280.50" y2="88.5" stroke="#a4a6b0" stroke-width="1"/>
<rect x="279.15" y="45.8" width="3.4" height="30.6" fill="#f4f4f4"/>
<line x1="285.50" y1="67.7" x2="285.50" y2="118.7" stroke="#a4a6b0" stroke-width="1"/>
<rect x="284.00" y="76.4" width="3.4" height="41.5" fill="#f4f4f4"/>
<line x1="290.50" y1="103.8" x2="290.50" y2="132.0" stroke="#3a6fb0" stroke-width="1"/>
<rect x="288.85" y="107.0" width="3.4" height="10.9" fill="#3a8ee6"/>
<line x1="295.50" y1="101.7" x2="295.50" y2="119.0" stroke="#a4a6b0" stroke-width="1"/>
<rect x="293.70" y="107.0" width="3.4" height="10.0" fill="#f4f4f4"/>
<line x1="300.50" y1="104.3" x2="300.50" y2="122.0" stroke="#3a6fb0" stroke-width="1"/>
<rect x="298.55" y="112.0" width="3.4" height="5.0" fill="#3a8ee6"/>
<line x1="305.50" y1="96.3" x2="305.50" y2="161.3" stroke="#a4a6b0" stroke-width="1"/>
<rect x="303.40" y="112.5" width="3.4" height="37.8" fill="#f4f4f4"/>
<line x1="309.50" y1="143.3" x2="309.50" y2="168.3" stroke="#a4a6b0" stroke-width="1"/>
<rect x="308.25" y="150.3" width="3.4" height="13.3" fill="#f4f4f4"/>
<line x1="314.50" y1="162.0" x2="314.50" y2="182.4" stroke="#a4a6b0" stroke-width="1"/>
<rect x="313.10" y="163.6" width="3.4" height="6.3" fill="#f4f4f4"/>
<line x1="319.50" y1="144.9" x2="319.50" y2="188.7" stroke="#a4a6b0" stroke-width="1"/>
<rect x="317.95" y="169.1" width="3.4" height="18.8" fill="#f4f4f4"/>
<line x1="324.50" y1="175.4" x2="324.50" y2="208.8" stroke="#a4a6b0" stroke-width="1"/>
<rect x="322.80" y="187.1" width="3.4" height="13.9" fill="#f4f4f4"/>
<line x1="329.50" y1="190.3" x2="329.50" y2="208.8" stroke="#a4a6b0" stroke-width="1"/>
<rect x="327.65" y="201.0" width="3.4" height="3.0" fill="#f4f4f4"/>
<line x1="334.50" y1="194.2" x2="334.50" y2="207.2" stroke="#3a6fb0" stroke-width="1"/>
<rect x="332.50" y="197.8" width="3.4" height="7.1" fill="#3a8ee6"/>
<line x1="339.50" y1="175.4" x2="339.50" y2="203.0" stroke="#3a6fb0" stroke-width="1"/>
<rect x="337.35" y="176.2" width="3.4" height="22.4" fill="#3a8ee6"/>
<line x1="343.50" y1="176.2" x2="343.50" y2="203.3" stroke="#a4a6b0" stroke-width="1"/>
<rect x="342.20" y="177.0" width="3.4" height="10.1" fill="#f4f4f4"/>
<line x1="348.50" y1="184.8" x2="348.50" y2="202.5" stroke="#a4a6b0" stroke-width="1"/>
<rect x="347.05" y="186.3" width="3.4" height="9.2" fill="#f4f4f4"/>
<line x1="353.50" y1="171.5" x2="353.50" y2="199.4" stroke="#3a6fb0" stroke-width="1"/>
<rect x="351.90" y="173.0" width="3.4" height="22.6" fill="#3a8ee6"/>
<line x1="358.50" y1="168.3" x2="358.50" y2="185.6" stroke="#3a6fb0" stroke-width="1"/>
<rect x="356.75" y="171.5" width="3.4" height="3.1" fill="#3a8ee6"/>
<line x1="363.50" y1="154.3" x2="363.50" y2="175.4" stroke="#3a6fb0" stroke-width="1"/>
<rect x="361.60" y="163.6" width="3.4" height="9.4" fill="#3a8ee6"/>
<line x1="368.50" y1="153.5" x2="368.50" y2="172.3" stroke="#a4a6b0" stroke-width="1"/>
<rect x="366.45" y="163.6" width="3.4" height="2.4" fill="#f4f4f4"/>
<line x1="372.50" y1="160.5" x2="372.50" y2="214.3" stroke="#a4a6b0" stroke-width="1"/>
<rect x="371.30" y="165.2" width="3.4" height="42.0" fill="#f4f4f4"/>
<line x1="377.50" y1="168.3" x2="377.50" y2="217.4" stroke="#3a6fb0" stroke-width="1"/>
<rect x="376.15" y="170.7" width="3.4" height="36.5" fill="#3a8ee6"/>
<line x1="382.50" y1="153.5" x2="382.50" y2="177.0" stroke="#3a6fb0" stroke-width="1"/>
<rect x="381.00" y="156.6" width="3.4" height="14.9" fill="#3a8ee6"/>
<line x1="387.50" y1="145.6" x2="387.50" y2="197.3" stroke="#a4a6b0" stroke-width="1"/>
<rect x="385.85" y="157.4" width="3.4" height="28.2" fill="#f4f4f4"/>
<line x1="392.50" y1="170.7" x2="392.50" y2="201.2" stroke="#a4a6b0" stroke-width="1"/>
<rect x="390.70" y="185.6" width="3.4" height="12.4" fill="#f4f4f4"/>
<line x1="397.50" y1="188.7" x2="397.50" y2="199.6" stroke="#3a6fb0" stroke-width="1"/>
<rect x="395.55" y="195.0" width="3.4" height="3.0" fill="#3a8ee6"/>
<line x1="402.50" y1="180.9" x2="402.50" y2="198.0" stroke="#3a6fb0" stroke-width="1"/>
<rect x="400.40" y="191.0" width="3.4" height="4.6" fill="#3a8ee6"/>
<line x1="406.50" y1="189.5" x2="406.50" y2="205.0" stroke="#a4a6b0" stroke-width="1"/>
<rect x="405.25" y="190.5" width="3.4" height="12.1" fill="#f4f4f4"/>
<line x1="411.50" y1="195.7" x2="411.50" y2="214.3" stroke="#a4a6b0" stroke-width="1"/>
<rect x="410.10" y="202.0" width="3.4" height="11.5" fill="#f4f4f4"/>
<line x1="416.50" y1="198.9" x2="416.50" y2="215.0" stroke="#3a6fb0" stroke-width="1"/>
<rect x="414.95" y="199.4" width="3.4" height="14.1" fill="#3a8ee6"/>
<line x1="421.50" y1="195.5" x2="421.50" y2="211.9" stroke="#a4a6b0" stroke-width="1"/>
<rect x="419.80" y="199.8" width="3.4" height="11.3" fill="#f4f4f4"/>
<line x1="426.50" y1="184.8" x2="426.50" y2="223.6" stroke="#3a6fb0" stroke-width="1"/>
<rect x="424.65" y="187.1" width="3.4" height="24.0" fill="#3a8ee6"/>
<line x1="431.50" y1="185.6" x2="431.50" y2="199.4" stroke="#a4a6b0" stroke-width="1"/>
<rect x="429.50" y="187.1" width="3.4" height="5.4" fill="#f4f4f4"/>
<line x1="436.50" y1="184.0" x2="436.50" y2="201.7" stroke="#a4a6b0" stroke-width="1"/>
<rect x="434.35" y="192.8" width="3.4" height="2.0" fill="#f4f4f4"/>
<line x1="440.50" y1="185.6" x2="440.50" y2="233.0" stroke="#a4a6b0" stroke-width="1"/>
<rect x="439.20" y="194.5" width="3.4" height="34.0" fill="#f4f4f4"/>
<line x1="445.50" y1="216.4" x2="445.50" y2="230.5" stroke="#3a6fb0" stroke-width="1"/>
<rect x="444.05" y="221.8" width="3.4" height="7.5" fill="#3a8ee6"/>
<line x1="450.50" y1="216.0" x2="450.50" y2="225.8" stroke="#a4a6b0" stroke-width="1"/>
<rect x="448.90" y="221.0" width="3.4" height="1.6" fill="#f4f4f4"/>
<line x1="455.50" y1="212.1" x2="455.50" y2="224.2" stroke="#3a6fb0" stroke-width="1"/>
<rect x="453.75" y="213.7" width="3.4" height="9.7" fill="#3a8ee6"/>
<line x1="460.50" y1="212.2" x2="460.50" y2="238.0" stroke="#a4a6b0" stroke-width="1"/>
<rect x="458.60" y="213.7" width="3.4" height="16.8" fill="#f4f4f4"/>
<line x1="465.50" y1="223.2" x2="465.50" y2="234.2" stroke="#3a6fb0" stroke-width="1"/>
<rect x="463.45" y="227.1" width="3.4" height="4.7" fill="#3a8ee6"/>
<line x1="469.50" y1="224.0" x2="469.50" y2="235.0" stroke="#a4a6b0" stroke-width="1"/>
<rect x="468.30" y="227.1" width="3.4" height="7.1" fill="#f4f4f4"/>
<line x1="474.50" y1="229.5" x2="474.50" y2="245.0" stroke="#a4a6b0" stroke-width="1"/>
<rect x="473.15" y="234.2" width="3.4" height="7.0" fill="#f4f4f4"/>
<line x1="479.50" y1="224.0" x2="479.50" y2="242.0" stroke="#3a6fb0" stroke-width="1"/>
<rect x="478.00" y="225.6" width="3.4" height="15.6" fill="#3a8ee6"/>
<line x1="484.50" y1="220.0" x2="484.50" y2="227.9" stroke="#a4a6b0" stroke-width="1"/>
<rect x="482.85" y="224.8" width="3.4" height="1.6" fill="#f4f4f4"/>
<line x1="489.50" y1="224.0" x2="489.50" y2="236.5" stroke="#a4a6b0" stroke-width="1"/>
<rect x="487.70" y="224.8" width="3.4" height="10.2" fill="#f4f4f4"/>
<line x1="494.50" y1="227.1" x2="494.50" y2="238.9" stroke="#3a6fb0" stroke-width="1"/>
<rect x="492.55" y="230.2" width="3.4" height="1.6" fill="#3a8ee6"/>
<line x1="499.50" y1="232.6" x2="499.50" y2="238.9" stroke="#a4a6b0" stroke-width="1"/>
<rect x="497.40" y="235.0" width="3.4" height="3.0" fill="#f4f4f4"/>
<line x1="503.50" y1="230.3" x2="503.50" y2="238.9" stroke="#3a6fb0" stroke-width="1"/>
<rect x="502.25" y="231.8" width="3.4" height="6.2" fill="#3a8ee6"/>
<line x1="508.50" y1="218.5" x2="508.50" y2="234.2" stroke="#3a6fb0" stroke-width="1"/>
<rect x="507.10" y="219.3" width="3.4" height="12.5" fill="#3a8ee6"/>
<line x1="513.50" y1="211.5" x2="513.50" y2="224.8" stroke="#3a6fb0" stroke-width="1"/>
<rect x="511.95" y="217.0" width="3.4" height="3.9" fill="#3a8ee6"/>
<line x1="518.50" y1="203.6" x2="518.50" y2="220.0" stroke="#3a6fb0" stroke-width="1"/>
<rect x="516.80" y="207.6" width="3.4" height="11.7" fill="#3a8ee6"/>
<line x1="523.50" y1="202.9" x2="523.50" y2="214.6" stroke="#3a6fb0" stroke-width="1"/>
<rect x="521.65" y="204.4" width="3.4" height="4.7" fill="#3a8ee6"/>
<line x1="528.50" y1="198.2" x2="528.50" y2="210.7" stroke="#3a6fb0" stroke-width="1"/>
<rect x="526.50" y="202.8" width="3.4" height="1.6" fill="#3a8ee6"/>
<line x1="533.50" y1="188.8" x2="533.50" y2="204.4" stroke="#3a6fb0" stroke-width="1"/>
<rect x="531.35" y="192.7" width="3.4" height="10.9" fill="#3a8ee6"/>
<line x1="537.50" y1="191.9" x2="537.50" y2="210.7" stroke="#a4a6b0" stroke-width="1"/>
<rect x="536.20" y="192.7" width="3.4" height="17.2" fill="#f4f4f4"/>
<line x1="542.50" y1="203.6" x2="542.50" y2="224.8" stroke="#a4a6b0" stroke-width="1"/>
<rect x="541.05" y="209.9" width="3.4" height="8.6" fill="#f4f4f4"/>
<line x1="547.50" y1="213.0" x2="547.50" y2="223.2" stroke="#3a6fb0" stroke-width="1"/>
<rect x="545.90" y="214.6" width="3.4" height="3.9" fill="#3a8ee6"/>
<line x1="552.50" y1="196.6" x2="552.50" y2="220.0" stroke="#3a6fb0" stroke-width="1"/>
<rect x="550.75" y="197.4" width="3.4" height="18.0" fill="#3a8ee6"/>
<line x1="557.50" y1="191.9" x2="557.50" y2="205.2" stroke="#3a6fb0" stroke-width="1"/>
<rect x="555.60" y="195.8" width="3.4" height="3.2" fill="#3a8ee6"/>
<line x1="562.50" y1="192.7" x2="562.50" y2="229.5" stroke="#a4a6b0" stroke-width="1"/>
<rect x="560.45" y="195.8" width="3.4" height="30.5" fill="#f4f4f4"/>
<line x1="566.50" y1="224.0" x2="566.50" y2="233.2" stroke="#a4a6b0" stroke-width="1"/>
<rect x="565.30" y="225.6" width="3.4" height="3.7" fill="#f4f4f4"/>
<line x1="571.50" y1="227.3" x2="571.50" y2="246.3" stroke="#a4a6b0" stroke-width="1"/>
<rect x="570.15" y="229.0" width="3.4" height="14.2" fill="#f4f4f4"/>
<line x1="576.50" y1="241.6" x2="576.50" y2="268.2" stroke="#a4a6b0" stroke-width="1"/>
<rect x="575.00" y="243.2" width="3.4" height="16.4" fill="#f4f4f4"/>
<line x1="581.50" y1="258.8" x2="581.50" y2="265.9" stroke="#a4a6b0" stroke-width="1"/>
<rect x="579.85" y="259.6" width="3.4" height="5.4" fill="#f4f4f4"/>
<line x1="586.50" y1="258.8" x2="586.50" y2="274.5" stroke="#3a6fb0" stroke-width="1"/>
<rect x="584.70" y="262.0" width="3.4" height="2.3" fill="#3a8ee6"/>
<line x1="591.50" y1="261.2" x2="591.50" y2="276.8" stroke="#a4a6b0" stroke-width="1"/>
<rect x="589.55" y="262.0" width="3.4" height="13.3" fill="#f4f4f4"/>
<line x1="596.50" y1="267.4" x2="596.50" y2="277.6" stroke="#3a6fb0" stroke-width="1"/>
<rect x="594.40" y="268.2" width="3.4" height="7.8" fill="#3a8ee6"/>
<line x1="600.50" y1="263.5" x2="600.50" y2="269.0" stroke="#3a6fb0" stroke-width="1"/>
<rect x="599.25" y="265.0" width="3.4" height="3.2" fill="#3a8ee6"/>
<line x1="605.50" y1="256.5" x2="605.50" y2="270.6" stroke="#3a6fb0" stroke-width="1"/>
<rect x="604.10" y="257.3" width="3.4" height="10.1" fill="#3a8ee6"/>
<line x1="610.50" y1="251.0" x2="610.50" y2="269.0" stroke="#a4a6b0" stroke-width="1"/>
<rect x="608.95" y="258.0" width="3.4" height="1.8" fill="#f4f4f4"/>
<line x1="615.50" y1="258.8" x2="615.50" y2="270.6" stroke="#a4a6b0" stroke-width="1"/>
<rect x="613.80" y="259.6" width="3.4" height="2.4" fill="#f4f4f4"/>
<line x1="620.50" y1="252.6" x2="620.50" y2="262.0" stroke="#3a6fb0" stroke-width="1"/>
<rect x="618.65" y="258.8" width="3.4" height="2.4" fill="#3a8ee6"/>
<line x1="625.50" y1="246.3" x2="625.50" y2="259.6" stroke="#3a6fb0" stroke-width="1"/>
<rect x="623.50" y="248.6" width="3.4" height="10.2" fill="#3a8ee6"/>
<line x1="630.50" y1="244.7" x2="630.50" y2="256.5" stroke="#a4a6b0" stroke-width="1"/>
<rect x="628.35" y="249.4" width="3.4" height="2.4" fill="#f4f4f4"/>
<line x1="634.50" y1="250.2" x2="634.50" y2="262.0" stroke="#a4a6b0" stroke-width="1"/>
<rect x="633.20" y="251.0" width="3.4" height="2.3" fill="#f4f4f4"/>
<line x1="639.50" y1="234.6" x2="639.50" y2="254.0" stroke="#3a6fb0" stroke-width="1"/>
<rect x="638.05" y="248.6" width="3.4" height="4.7" fill="#3a8ee6"/>
<line x1="644.50" y1="231.4" x2="644.50" y2="251.0" stroke="#3a6fb0" stroke-width="1"/>
<rect x="642.90" y="235.3" width="3.4" height="14.9" fill="#3a8ee6"/>
<line x1="649.50" y1="233.0" x2="649.50" y2="257.3" stroke="#a4a6b0" stroke-width="1"/>
<rect x="647.75" y="235.3" width="3.4" height="21.2" fill="#f4f4f4"/>
<line x1="654.50" y1="246.3" x2="654.50" y2="261.2" stroke="#3a6fb0" stroke-width="1"/>
<rect x="652.60" y="247.9" width="3.4" height="8.6" fill="#3a8ee6"/>
<line x1="659.50" y1="247.9" x2="659.50" y2="262.0" stroke="#a4a6b0" stroke-width="1"/>
<rect x="657.45" y="247.9" width="3.4" height="10.1" fill="#f4f4f4"/>
<line x1="663.50" y1="251.3" x2="663.50" y2="367.3" stroke="#a4a6b0" stroke-width="1"/>
<rect x="662.30" y="257.8" width="3.4" height="54.6" fill="#f4f4f4"/>
<line x1="668.50" y1="307.0" x2="668.50" y2="321.5" stroke="#a4a6b0" stroke-width="1"/>
<rect x="667.15" y="312.6" width="3.4" height="5.0" fill="#f4f4f4"/>
<line x1="673.50" y1="290.7" x2="673.50" y2="319.8" stroke="#3a6fb0" stroke-width="1"/>
<rect x="672.00" y="295.4" width="3.4" height="23.8" fill="#3a8ee6"/>
<line x1="678.50" y1="290.7" x2="678.50" y2="303.2" stroke="#3a6fb0" stroke-width="1"/>
<rect x="676.85" y="291.5" width="3.4" height="3.9" fill="#3a8ee6"/>
<line x1="683.50" y1="291.5" x2="683.50" y2="308.7" stroke="#a4a6b0" stroke-width="1"/>
<rect x="681.70" y="292.3" width="3.4" height="9.3" fill="#f4f4f4"/>
<line x1="688.50" y1="298.5" x2="688.50" y2="307.9" stroke="#a4a6b0" stroke-width="1"/>
<rect x="686.55" y="301.6" width="3.4" height="5.5" fill="#f4f4f4"/>
<line x1="693.50" y1="303.2" x2="693.50" y2="312.6" stroke="#a4a6b0" stroke-width="1"/>
<rect x="691.40" y="307.1" width="3.4" height="3.9" fill="#f4f4f4"/>
<line x1="697.50" y1="309.5" x2="697.50" y2="318.9" stroke="#a4a6b0" stroke-width="1"/>
<rect x="696.25" y="310.2" width="3.4" height="4.0" fill="#f4f4f4"/>
<line x1="702.50" y1="310.5" x2="702.50" y2="315.7" stroke="#3a6fb0" stroke-width="1"/>
<rect x="701.10" y="311.8" width="3.4" height="2.4" fill="#3a8ee6"/>
<line x1="707.50" y1="310.3" x2="707.50" y2="315.2" stroke="#3a6fb0" stroke-width="1"/>
<rect x="705.95" y="311.8" width="3.4" height="2.4" fill="#3a8ee6"/>
<line x1="712.50" y1="307.9" x2="712.50" y2="315.0" stroke="#a4a6b0" stroke-width="1"/>
<rect x="710.80" y="311.0" width="3.4" height="1.6" fill="#f4f4f4"/>
<line x1="717.50" y1="306.3" x2="717.50" y2="316.5" stroke="#a4a6b0" stroke-width="1"/>
<rect x="715.65" y="311.8" width="3.4" height="1.6" fill="#f4f4f4"/>
<line x1="722.50" y1="312.6" x2="722.50" y2="322.8" stroke="#a4a6b0" stroke-width="1"/>
<rect x="720.50" y="313.4" width="3.4" height="7.8" fill="#f4f4f4"/>
<line x1="727.50" y1="312.6" x2="727.50" y2="322.0" stroke="#3a6fb0" stroke-width="1"/>
<rect x="725.35" y="313.4" width="3.4" height="7.8" fill="#3a8ee6"/>
<line x1="731.50" y1="308.7" x2="731.50" y2="315.0" stroke="#3a6fb0" stroke-width="1"/>
<rect x="730.20" y="309.5" width="3.4" height="4.7" fill="#3a8ee6"/>
<line x1="736.50" y1="307.1" x2="736.50" y2="311.0" stroke="#3a6fb0" stroke-width="1"/>
<rect x="735.05" y="308.6" width="3.4" height="1.6" fill="#3a8ee6"/>
<line x1="741.50" y1="300.9" x2="741.50" y2="310.2" stroke="#3a6fb0" stroke-width="1"/>
<rect x="739.90" y="303.2" width="3.4" height="6.3" fill="#3a8ee6"/>
<line x1="746.50" y1="300.0" x2="746.50" y2="308.7" stroke="#a4a6b0" stroke-width="1"/>
<rect x="744.75" y="304.0" width="3.4" height="1.6" fill="#f4f4f4"/>
<line x1="751.50" y1="302.4" x2="751.50" y2="314.2" stroke="#a4a6b0" stroke-width="1"/>
<rect x="749.60" y="305.6" width="3.4" height="7.8" fill="#f4f4f4"/>
<line x1="756.50" y1="302.4" x2="756.50" y2="314.2" stroke="#3a6fb0" stroke-width="1"/>
<rect x="754.45" y="306.3" width="3.4" height="6.3" fill="#3a8ee6"/>
<line x1="760.50" y1="305.0" x2="760.50" y2="322.0" stroke="#a4a6b0" stroke-width="1"/>
<rect x="759.30" y="305.6" width="3.4" height="14.0" fill="#f4f4f4"/>
<line x1="765.50" y1="315.7" x2="765.50" y2="325.8" stroke="#a4a6b0" stroke-width="1"/>
<rect x="764.15" y="319.6" width="3.4" height="3.1" fill="#f4f4f4"/>
<line x1="770.50" y1="317.4" x2="770.50" y2="323.6" stroke="#3a6fb0" stroke-width="1"/>
<rect x="769.00" y="318.9" width="3.4" height="3.8" fill="#3a8ee6"/>
<line x1="775.50" y1="317.4" x2="775.50" y2="323.6" stroke="#a4a6b0" stroke-width="1"/>
<rect x="773.85" y="317.6" width="3.4" height="1.6" fill="#f4f4f4"/>
<line x1="780.50" y1="318.2" x2="780.50" y2="335.0" stroke="#a4a6b0" stroke-width="1"/>
<rect x="778.70" y="318.9" width="3.4" height="15.5" fill="#f4f4f4"/>
<line x1="785.50" y1="332.9" x2="785.50" y2="339.2" stroke="#a4a6b0" stroke-width="1"/>
<rect x="783.55" y="334.0" width="3.4" height="1.8" fill="#f4f4f4"/>
<line x1="790.50" y1="329.1" x2="790.50" y2="338.3" stroke="#3a6fb0" stroke-width="1"/>
<rect x="788.40" y="331.8" width="3.4" height="3.5" fill="#3a8ee6"/>
<line x1="794.50" y1="331.5" x2="794.50" y2="336.6" stroke="#a4a6b0" stroke-width="1"/>
<rect x="793.25" y="332.1" width="3.4" height="1.6" fill="#f4f4f4"/>
<line x1="799.50" y1="323.6" x2="799.50" y2="335.9" stroke="#3a6fb0" stroke-width="1"/>
<rect x="798.10" y="326.0" width="3.4" height="9.4" fill="#3a8ee6"/>
<line x1="804.50" y1="323.6" x2="804.50" y2="331.5" stroke="#a4a6b0" stroke-width="1"/>
<rect x="802.95" y="326.8" width="3.4" height="1.6" fill="#f4f4f4"/>
<line x1="809.50" y1="319.7" x2="809.50" y2="328.3" stroke="#3a6fb0" stroke-width="1"/>
<rect x="807.80" y="322.0" width="3.4" height="5.6" fill="#3a8ee6"/>
<line x1="814.50" y1="316.6" x2="814.50" y2="322.8" stroke="#3a6fb0" stroke-width="1"/>
<rect x="812.65" y="317.4" width="3.4" height="4.6" fill="#3a8ee6"/>
<line x1="819.50" y1="316.6" x2="819.50" y2="329.1" stroke="#a4a6b0" stroke-width="1"/>
<rect x="817.50" y="318.2" width="3.4" height="10.1" fill="#f4f4f4"/>
<line x1="824.50" y1="325.2" x2="824.50" y2="332.3" stroke="#a4a6b0" stroke-width="1"/>
<rect x="822.35" y="328.3" width="3.4" height="2.4" fill="#f4f4f4"/>
<line x1="828.50" y1="329.1" x2="828.50" y2="336.2" stroke="#a4a6b0" stroke-width="1"/>
<rect x="827.20" y="330.7" width="3.4" height="2.3" fill="#f4f4f4"/>
<line x1="833.50" y1="333.0" x2="833.50" y2="341.6" stroke="#a4a6b0" stroke-width="1"/>
<rect x="832.05" y="333.8" width="3.4" height="7.1" fill="#f4f4f4"/>
<line x1="838.50" y1="336.2" x2="838.50" y2="340.9" stroke="#3a6fb0" stroke-width="1"/>
<rect x="836.90" y="337.7" width="3.4" height="3.2" fill="#3a8ee6"/>
<line x1="843.50" y1="336.2" x2="843.50" y2="340.9" stroke="#3a6fb0" stroke-width="1"/>
<rect x="841.75" y="337.7" width="3.4" height="2.2" fill="#3a8ee6"/>
<line x1="848.50" y1="335.4" x2="848.50" y2="340.9" stroke="#a4a6b0" stroke-width="1"/>
<rect x="846.60" y="337.4" width="3.4" height="1.6" fill="#f4f4f4"/>
<line x1="853.50" y1="334.6" x2="853.50" y2="340.1" stroke="#3a6fb0" stroke-width="1"/>
<rect x="851.45" y="335.4" width="3.4" height="3.9" fill="#3a8ee6"/>
<line x1="857.50" y1="331.5" x2="857.50" y2="338.5" stroke="#3a6fb0" stroke-width="1"/>
<rect x="856.30" y="332.3" width="3.4" height="3.1" fill="#3a8ee6"/>
<line x1="862.50" y1="323.6" x2="862.50" y2="335.4" stroke="#3a6fb0" stroke-width="1"/>
<rect x="861.15" y="330.7" width="3.4" height="3.9" fill="#3a8ee6"/>
<line x1="867.50" y1="327.6" x2="867.50" y2="344.0" stroke="#a4a6b0" stroke-width="1"/>
<rect x="866.00" y="332.3" width="3.4" height="10.9" fill="#f4f4f4"/>
<line x1="872.50" y1="341.6" x2="872.50" y2="351.0" stroke="#a4a6b0" stroke-width="1"/>
<rect x="870.85" y="342.4" width="3.4" height="3.2" fill="#f4f4f4"/>
<line x1="877.50" y1="338.5" x2="877.50" y2="346.4" stroke="#3a6fb0" stroke-width="1"/>
<rect x="875.70" y="341.6" width="3.4" height="3.2" fill="#3a8ee6"/>
<line x1="882.50" y1="329.1" x2="882.50" y2="345.6" stroke="#3a6fb0" stroke-width="1"/>
<rect x="880.55" y="329.9" width="3.4" height="14.9" fill="#3a8ee6"/>
<line x1="887.50" y1="322.9" x2="887.50" y2="333.0" stroke="#3a6fb0" stroke-width="1"/>
<rect x="885.40" y="326.8" width="3.4" height="4.7" fill="#3a8ee6"/>
<line x1="891.50" y1="309.6" x2="891.50" y2="330.7" stroke="#3a6fb0" stroke-width="1"/>
<rect x="890.25" y="315.8" width="3.4" height="11.0" fill="#3a8ee6"/>
<line x1="896.50" y1="314.6" x2="896.50" y2="320.0" stroke="#a4a6b0" stroke-width="1"/>
<rect x="895.10" y="316.0" width="3.4" height="3.0" fill="#f4f4f4"/>
<polyline points="0.0,421.2 5.9,423.4 13.2,428.6 19.8,435.4 23.4,434.9 30.0,430.5 34.4,431.5 43.2,438.8 48.3,434.4 52.7,436.3 63.0,431.9 72.5,416.8 76.9,417.9 82.0,424.9 87.2,422.7 92.3,426.7 96.7,425.6 101.8,427.1 106.9,430.8 111.3,429.6 121.6,437.8 126.0,438.4 130.4,436.9 136.2,430.0 141.4,431.1 145.0,431.5 150.1,434.9 156.7,428.6 164.8,422.3 169.2,423.1 174.3,430.5 178.7,424.2 183.8,420.1 188.9,422.4 195.5,422.4 199.2,423.4 208.0,430.0 213.1,426.4 218.2,416.1 227.8,420.5 232.9,418.7 237.3,418.3 242.4,422.0 247.5,412.9 257.1,418.7 262.2,415.4 266.6,415.4 271.7,408.8 276.8,406.6 285.6,426.4 290.4,423.7 295.9,426.1 300.3,425.2 305.4,433.0 310.5,435.2 314.9,436.3 325.2,441.3 329.5,442.0 333.9,439.8 339.1,434.0 348.6,437.8 354.5,431.1 358.1,430.3 363.2,428.1 367.6,428.6 373.5,438.4 377.9,428.6 382.6,425.2 388.1,431.5 392.5,433.4 396.9,433.0 402.1,431.5 407.2,433.7 412.3,436.3 416.7,432.5 421.8,434.9 427.0,428.3 431.4,429.3 435.5,430.0 440.9,437.4 446.0,435.4 450.4,435.9 455.5,433.0 460.6,436.6 465.0,435.4 470.2,437.4 474.8,438.8 479.7,433.0 484.8,433.0 489.9,435.2 495.1,435.4 499.5,436.6 503.8,434.0 509.0,429.0 513.4,427.8 518.5,424.2 523.6,422.7 528.7,422.3 533.1,418.3 538.3,425.6 543.4,429.6 547.8,427.8 552.9,421.2 557.3,420.5 562.4,431.5 566.8,433.0 572.0,437.4 577.1,441.7 581.5,442.8 585.9,441.3 591.0,444.7 596.1,440.7 600.5,439.8 605.6,435.9 610.8,435.9 615.9,436.6 620.3,435.4 625.4,430.5 630.5,431.5 634.9,432.5 640.0,430.0 644.7,423.1 650.0,431.9 654.7,428.6 659.1,431.5 664.2,446.1 669.4,447.2 673.7,438.4 678.9,437.4 684.0,439.3 689.1,440.7 694.3,441.7 698.6,442.5 703.8,442.2 708.2,441.3 713.3,441.3 717.7,442.2 722.1,444.2 726.5,440.3 730.9,437.4 736.7,435.9 741.8,433.0 747.0,434.0 751.7,437.8 756.5,433.0 760.9,438.4 766.0,439.8 771.1,436.9 775.5,437.4 781.4,443.2 785.8,443.9 790.2,441.3 794.6,442.5 799.7,435.9 804.8,436.3 810.0,432.5 814.6,430.0 819.5,435.2 824.6,436.3 829.0,437.8 834.1,441.0 839.3,439.3 848.5,439.3 853.9,436.3 858.3,434.4 863.0,434.4 867.8,439.4 873.0,442.2 878.1,438.8 882.8,427.5 887.6,424.6 892.7,417.9 897.9,419.8" fill="none" stroke="#d6d8de" stroke-width="1.2" stroke-linejoin="round" />
<line x1="0" y1="406.8" x2="957" y2="406.8" stroke="#9a9da6" stroke-width="1.1" stroke-dasharray="4.5 3.584" stroke-dashoffset="1.58"/>
<line x1="0" y1="445.6" x2="957" y2="445.6" stroke="#9a9da6" stroke-width="1.1" stroke-dasharray="4.5 3.584" stroke-dashoffset="1.58"/>
<!-- separators -->
<rect x="0" y="400" width="1024" height="1.5" fill="#7a7d86"/>
<rect x="0" y="453" width="1024" height="26" fill="#141823"/>
<rect x="0" y="452.5" width="1024" height="1" fill="#262a35"/>
<rect x="961" y="0" width="1" height="479" fill="#2a2e39"/>
<rect x="0" y="0" width="1024" height="1.2" fill="#e6e8ee"/>
<rect x="0" y="477.8" width="1024" height="1.2" fill="#6e717a"/>
<!-- legend -->
<g class="t" font-size="10" fill="#b2b5be" stroke="#b2b5be" stroke-width="0.25">
<text x="5.7" y="17.4" textLength="135.4" lengthAdjust="spacingAndGlyphs">Fartcoin / Tether · 1D · KuCoin</text>
<text x="146.8" y="17.4" textLength="38.3" lengthAdjust="spacingAndGlyphs"><tspan>O</tspan><tspan fill="#e8e9ec" stroke="#e8e9ec">0.3522</tspan></text>
<text x="192" y="17.4" textLength="38.2" lengthAdjust="spacingAndGlyphs"><tspan>H</tspan><tspan fill="#e8e9ec" stroke="#e8e9ec">0.3580</tspan></text>
<text x="235.7" y="17.4" textLength="38.8" lengthAdjust="spacingAndGlyphs"><tspan>L</tspan><tspan fill="#e8e9ec" stroke="#e8e9ec">0.3336</tspan></text>
<text x="280.8" y="17.4" textLength="37.5" lengthAdjust="spacingAndGlyphs"><tspan>C</tspan><tspan fill="#e8e9ec" stroke="#e8e9ec">0.3410</tspan></text>
<text x="325.4" y="17.4" fill="#e8e9ec" stroke="#e8e9ec" textLength="79.3" lengthAdjust="spacingAndGlyphs">−0.0115 (−3.26%)</text>
<text x="5.7" y="30.7" textLength="20.6" lengthAdjust="spacingAndGlyphs">SMA</text>
<text x="32.4" y="30.7" fill="#3048c8" stroke="#3048c8" textLength="30.5" lengthAdjust="spacingAndGlyphs">0.2747</text>
<text x="5.7" y="44" textLength="70.2" lengthAdjust="spacingAndGlyphs">Vol · FARTCOIN</text>
<text x="82" y="44" fill="#d84a4a" stroke="#d84a4a" textLength="28.1" lengthAdjust="spacingAndGlyphs">7.72M</text>
<text x="5.7" y="57.4" textLength="51.5" lengthAdjust="spacingAndGlyphs">MA50&amp;200</text>
<text x="64" y="57.4" fill="#2f6fe0" stroke="#2f6fe0" textLength="31.3" lengthAdjust="spacingAndGlyphs">0.8598</text>
<text x="101.9" y="57.4" fill="#2ab3c4" stroke="#2ab3c4" textLength="31.4" lengthAdjust="spacingAndGlyphs">0.3306</text>
<text x="5.9" y="417.6" font-size="10.2" textLength="14" lengthAdjust="spacingAndGlyphs">RSI</text>
<text x="27" y="417.6" fill="#e8e9ec" stroke="#e8e9ec" font-size="10.2" textLength="23.2" lengthAdjust="spacingAndGlyphs">56.71</text>
</g>
<!-- price axis -->
<g class="t" font-size="12.2" fill="#b2b5be">
<text x="969.4" y="391.9">0.0000</text>
<text x="969.4" y="350.9">0.2000</text>
<text x="969.4" y="309.9">0.4000</text>
<text x="969.4" y="268.9">0.6000</text>
<text x="969.4" y="227.9">0.8000</text>
<text x="969.4" y="186.9">1.0000</text>
<text x="969.4" y="145.9">1.2000</text>
<text x="969.4" y="104.9">1.4000</text>
<text x="969.4" y="63.9">1.6000</text>
<text x="969.4" y="440.0">40.00</text>
</g>
<path d="M961.8 310.2 H1020.6 Q1022.8 310.2 1022.8 312.4 V337.3 Q1022.8 339.5 1020.6 339.5 H961.8 Z" fill="#ffffff"/>
<g class="t" font-size="12.2" fill="#1e222d">
<text x="969.4" y="322.9">0.3410</text>
<text x="969.4" y="335.5" fill="#474a54">18:22:53</text>
</g>
<rect x="965.1" y="5.1" width="56.6" height="18.8" rx="3" fill="#0e0f12"/>
<text class="t" x="971.6" y="17.9" font-size="10.3" font-weight="bold" fill="#d8d9de" textLength="26.4" lengthAdjust="spacingAndGlyphs">USDT</text>
<g class="t" font-size="11.3" font-weight="bold" fill="#b2b5be" text-anchor="middle">
<text x="28.6" y="470">Jun</text>
<text x="174.2" y="470">Jul</text>
<text x="324.5" y="470">Aug</text>
<text x="474.8" y="470">Sep</text>
<text x="620.3" y="470">Oct</text>
<text x="770.7" y="470">Nov</text>
<text x="916.2" y="470">Dec</text>
</g>
</svg>
</body></html>
